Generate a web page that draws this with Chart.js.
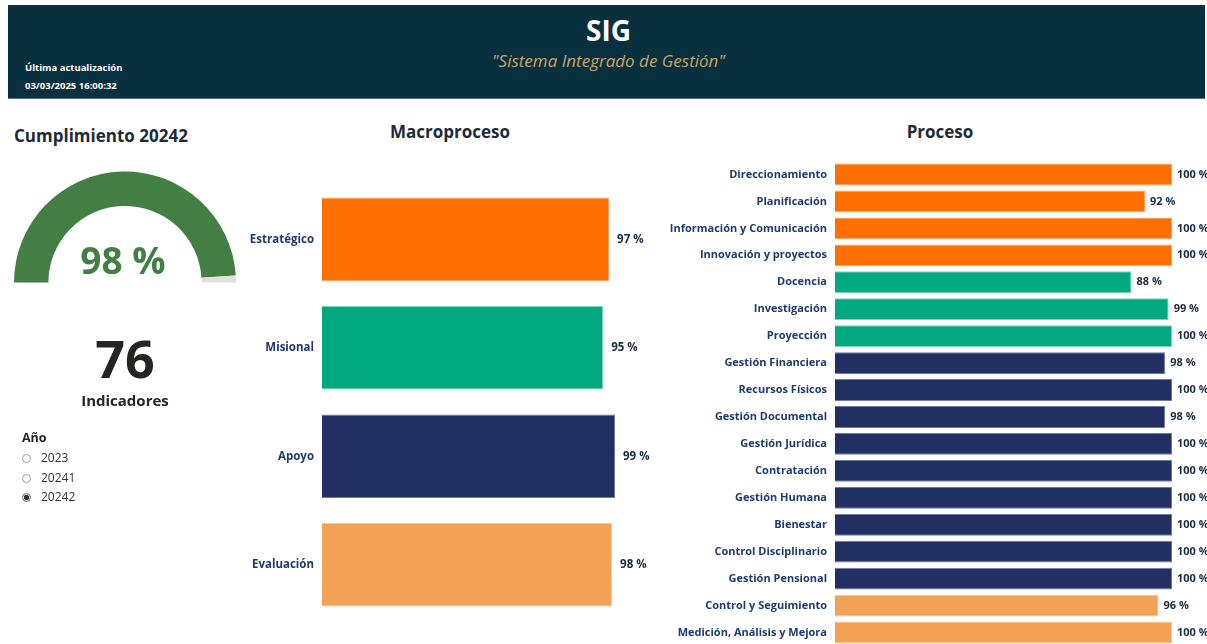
<!DOCTYPE html>
<html lang="es">
<head>
<meta charset="utf-8">
<title>SIG - Sistema Integrado de Gestión</title>
<script src="https://cdn.jsdelivr.net/npm/chart.js@4"></script>
<style>
  html, body { margin: 0; padding: 0; background: #fff; overflow: hidden; }
  body { width: 1207px; height: 644px; position: relative; font-family: "Open Sans", "Noto Sans", sans-serif; color: #252423; }
  .abs { position: absolute; }
  .header { left: 8px; top: 5px; width: 1197px; height: 93px; background: #08303f; border-bottom: 1px solid #5a7480; }
  .sig { left: 0; width: 1217px; top: 11px; text-align: center; color: #fff; font-weight: 700; font-size: 28px; }
  .sub { left: 0; width: 1217px; top: 49px; text-align: center; color: #c9a46c; font-style: italic; font-size: 17px; }
  .upd { left: 25px; font-size: 9.5px; font-weight: 700; color: #fff; }
  .title { font-weight: 700; font-size: 17px; color: #1d2a38; }
  .radio { left: 22px; font-size: 12px; color: #333; }
  .radio span.dot { display: inline-block; width: 7px; height: 7px; border: 1px solid #9a9a9a; border-radius: 50%; vertical-align: -1px; margin-right: 10px; box-sizing: content-box; }
  .radio span.on { background: radial-gradient(circle, #333 0 2.5px, #fff 3px); border-color: #666; }
</style>
</head>
<body>
<div class="abs header"></div>
<div class="abs sig">SIG</div>
<div class="abs sub">"Sistema Integrado de Gestión"</div>
<div class="abs upd" style="top:61px">Última actualización</div>
<div class="abs upd" style="top:79px">03/03/2025 16:00:32</div>

<div class="abs title" style="left:14px; top:124px; font-size:17px;">Cumplimiento 20242</div>
<canvas id="gauge" class="abs" width="222" height="112" style="left:14px; top:171px;"></canvas>
<div class="abs" id="gaugeValue" style="left:23px; width:200px; top:234px; text-align:center; color:#437f45; font-weight:700; font-size:37px;"></div>
<div class="abs" id="indicadores" style="left:25px; width:200px; top:327px; text-align:center; font-weight:700; font-size:52px; line-height:1.2;"></div>
<div class="abs" style="left:25px; width:200px; top:390px; text-align:center; font-weight:700; font-size:15px;">Indicadores</div>
<div class="abs" style="left:22px; top:429px; font-weight:700; font-size:12.5px;">Año</div>
<div id="years"></div>

<div class="abs title" style="left:240px; width:420px; top:120px; text-align:center;">Macroproceso</div>
<canvas id="macro" class="abs" width="420" height="434" style="left:240px; top:185px;"></canvas>

<div class="abs title" style="left:680px; width:520px; top:120px; text-align:center;">Proceso</div>
<canvas id="proceso" class="abs" width="547" height="485" style="left:660px; top:161px;"></canvas>

<script>
const cumplimiento = 98;
const totalIndicadores = 76;
const years = ["2023", "20241", "20242"];
const selectedYear = "20242";

const macroLabels = ["Estratégico", "Misional", "Apoyo", "Evaluación"];
const macroValues = [97, 95, 99, 98];

const procesoLabels = [
  "Direccionamiento", "Planificación", "Información y Comunicación", "Innovación y proyectos",
  "Docencia", "Investigación", "Proyección",
  "Gestión Financiera", "Recursos Físicos", "Gestión Documental", "Gestión Jurídica",
  "Contratación", "Gestión Humana", "Bienestar", "Control Disciplinario", "Gestión Pensional",
  "Control y Seguimiento", "Medición, Análisis y Mejora"
];
const procesoValues = [100, 92, 100, 100, 88, 99, 100, 98, 100, 98, 100, 100, 100, 100, 100, 100, 96, 100];
const procesoMacro = [0, 0, 0, 0, 1, 1, 1, 2, 2, 2, 2, 2, 2, 2, 2, 2, 3, 3];

// colores por macroproceso
const macroColors = ["#ff7000", "#03a97e", "#212f63", "#f2a155"];
const macroBorders = ["#ffa466", "#7fd6be", "#6d7aa3", "#f8c699"];
const labelColor = "#1e3a6e";

document.getElementById("gaugeValue").textContent = cumplimiento + " %";
document.getElementById("indicadores").textContent = totalIndicadores;

const yearsDiv = document.getElementById("years");
years.forEach((y, i) => {
  let d = document.createElement("div");
  d.className = "abs radio";
  d.style.top = (449 + i * 19.5) + "px";
  d.innerHTML = `<span class="dot${y === selectedYear ? " on" : ""}"></span>${y}`;
  yearsDiv.appendChild(d);
});

Chart.defaults.font.family = '"Open Sans", "Noto Sans", sans-serif';
Chart.defaults.animation = false;

// etiquetas de valor al final de cada barra
const valueLabels = {
  id: "valueLabels",
  afterDatasetsDraw(chart, args, opts) {
    const ctx = chart.ctx;
    const meta = chart.getDatasetMeta(0);
    ctx.save();
    ctx.font = `700 ${opts.size}px "Open Sans", sans-serif`;
    ctx.fillStyle = opts.color;
    ctx.textBaseline = "middle";
    ctx.textAlign = "left";
    meta.data.forEach((bar, i) => {
      ctx.fillText(chart.data.datasets[0].data[i] + " %", bar.x + opts.gap, bar.y);
    });
    ctx.restore();
  }
};

new Chart(document.getElementById("gauge"), {
  type: "doughnut",
  data: {
    labels: ["Cumplido", "Pendiente"],
    datasets: [{
      data: [cumplimiento, 100 - cumplimiento],
      backgroundColor: ["#437f45", "#e3e0dc"],
      borderWidth: 0,
    }],
  },
  options: {
    responsive: false,
    rotation: -90,
    circumference: 180,
    cutout: "69%",
    layout: { padding: 0 },
    plugins: { legend: { display: false }, tooltip: { enabled: false } },
  },
});

const barOptions = (axisWidth, padRight, size, gap, barPct, fontSize) => ({
  responsive: false,
  indexAxis: "y",
  layout: { padding: { left: 0, right: padRight, top: 0, bottom: 0 } },
  scales: {
    x: { display: false, min: 0, max: 100 },
    y: {
      afterFit: (scale) => {
        scale.width = axisWidth;
        scale.paddingTop = 0;
        scale.paddingBottom = 0;
      },
      grid: { display: false, drawTicks: false },
      border: { display: false },
      ticks: { autoSkip: false, padding: 8, color: labelColor, font: { size: fontSize, weight: "700" } },
    },
  },
  datasets: { bar: { categoryPercentage: 1, barPercentage: barPct } },
  plugins: {
    legend: { display: false },
    tooltip: { enabled: false },
    valueLabels: { size: size, gap: gap, color: "#1b2a44" },
  },
});

new Chart(document.getElementById("macro"), {
  type: "bar",
  data: {
    labels: macroLabels,
    datasets: [{
      label: "Macroproceso",
      data: macroValues,
      backgroundColor: macroColors,
      borderColor: macroBorders,
      borderWidth: 1,
    }],
  },
  options: barOptions(82, 42, 11.5, 8, 0.77, 11.5),
  plugins: [valueLabels],
});

new Chart(document.getElementById("proceso"), {
  type: "bar",
  data: {
    labels: procesoLabels,
    datasets: [{
      label: "Proceso",
      data: procesoValues,
      backgroundColor: procesoMacro.map((m) => macroColors[m]),
      borderColor: procesoMacro.map((m) => macroBorders[m]),
      borderWidth: 1,
    }],
  },
  options: barOptions(175, 35, 11, 5, 0.81, 11),
  plugins: [valueLabels],
});
</script>
</body>
</html>
